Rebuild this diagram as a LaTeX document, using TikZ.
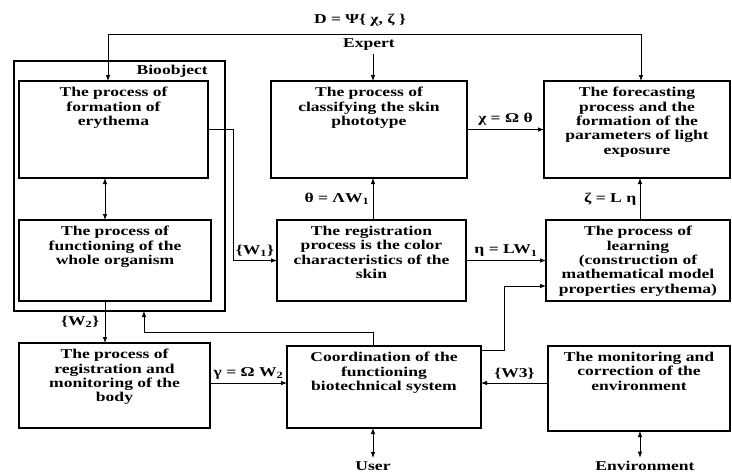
\documentclass[tikz,border=0pt]{standalone}
\usepackage{fontspec}
\setmainfont{Liberation Serif}[FakeStretch=1.3]
\usetikzlibrary{arrows.meta, positioning}

\begin{document}
\begin{tikzpicture}[x=1pt, y=-1pt, >={Latex[length=6pt,width=4.5pt]},
        font=\bfseries\fontsize{13.5}{14.4}\selectfont,
        proc/.style={draw, line width=2.6pt, inner sep=0pt, outer sep=0pt, anchor=north west},
        txt/.style={align=center, inner sep=0pt},
        conn/.style={line width=0.8pt}]
        \useasboundingbox (0,0) rectangle (732,474);
        % bioobject frame
        \node[draw, line width=1.8pt, minimum width=211pt, minimum height=250pt, inner sep=0pt, outer sep=0pt, anchor=north west] (bio) at (14,61) {};
        \node[txt, anchor=north east] (biolbl) at (208,65) {Bioobject};
        % process boxes
        \node[proc, minimum width=189pt, minimum height=97pt] (form) at (19,81) {};
        \node[proc, minimum width=192pt, minimum height=81pt] (organ) at (19,220) {};
        \node[proc, minimum width=196pt, minimum height=97pt] (skin) at (271,81) {};
        \node[proc, minimum width=186pt, minimum height=97pt] (fore) at (544,81) {};
        \node[proc, minimum width=189pt, minimum height=81pt] (reg) at (277,220) {};
        \node[proc, minimum width=184pt, minimum height=81pt] (learn) at (546,220) {};
        \node[proc, minimum width=191pt, minimum height=85pt] (body) at (19,343) {};
        \node[proc, minimum width=194pt, minimum height=82pt] (ctrl) at (287,346) {};
        \node[proc, minimum width=182pt, minimum height=85pt] (env) at (548,346) {};
        % box texts
        \node[txt, below=6pt of form.north] (formtxt) {The process of\\formation of\\erythema};
        \node[txt, below=6pt of organ.north] (organtxt) {The process of\\functioning of the\\whole organism};
        \node[txt, below=6pt of skin.north] (skintxt) {The process of\\classifying the skin\\phototype};
        \node[txt, below=6pt of fore.north] (foretxt) {The forecasting\\process and the\\formation of the\\parameters of light\\exposure};
        \node[txt, below=6pt of reg.north] (regtxt) {The registration\\process is the color\\characteristics of the\\skin};
        \node[txt, below=6pt of learn.north] (learntxt) {The process of\\learning\\(construction of\\mathematical model\\properties erythema)};
        \node[txt, below=6pt of body.north] (bodytxt) {The process of\\registration and\\monitoring of the\\body};
        \node[txt, below=6pt of ctrl.north] (ctrltxt) {Coordination of the\\functioning\\biotechnical system};
        \node[txt, below=6pt of env.north] (envtxt) {The monitoring and\\correction of the\\environment};
        % outer labels
        \node (dlbl) at (360,20) {D = Ψ\{ χ, ζ \}};
        \node (expert) at (369,45) {Expert};
        \node (user) at (373,466) {User};
        \node (envir) at (645,466) {Environment};
        % helper coordinates
        \coordinate (c1) at (105,0);
        \coordinate (c2) at (373,0);
        \coordinate (c3) at (640,0);
        \coordinate (d1) at (108,0);
        \coordinate (d2) at (641,34);
        \coordinate (w1) at (233,0);
        \coordinate (r4) at (0,383);
        \coordinate (fb) at (144,332);
        \coordinate (hf) at (504,286);
        % connectors
        \draw[conn, <->] (form.north -| d1) |- (d2) -- (fore.north -| d2);
        \draw[conn, ->] (expert.south -| c2) -- (skin.north -| c2);
        \draw[conn, <->] (form.south -| c1) -- (organ.north -| c1);
        \draw[conn, ->] (organ.south -| c1) -- node[left, xshift=-2pt] {\{W\textsubscript{2}\}} (body.north -| c1);
        \draw[conn, ->] (form.east) -| (w1 |- reg.west) -- node[above] {\{W\textsubscript{1}\}} (reg.west);
        \draw[conn, ->] (reg.north -| c2) -- node[left] {θ = ΛW\textsubscript{1}} (skin.south -| c2);
        \draw[conn, ->] (skin.east) -- node[above] {χ = Ω θ} (skin.east -| fore.west);
        \draw[conn, ->] (reg.east) -- node[above] {η  = LW\textsubscript{1}} (reg.east -| learn.west);
        \draw[conn, ->] (learn.north -| c3) -- node[left] {ζ = L η} (fore.south -| c3);
        \draw[conn, ->] (body.east |- r4) -- node[above] {γ = Ω W\textsubscript{2}} (ctrl.west |- r4);
        \draw[conn, ->] (env.west |- r4) -- node[above] {\{W3\}} (ctrl.east |- r4);
        \draw[conn, ->] (ctrl.north -| c2) |- (fb) -- (fb |- bio.south);
        \draw[conn, ->] ([yshift=-4pt]ctrl.north east) -| (hf) -- (hf -| learn.west);
        \draw[conn, <->] (ctrl.south -| c2) -- (user.north);
        \draw[conn, <->] (env.south -| c3) -- (c3 |- envir.north);
\end{tikzpicture}
\end{document}
